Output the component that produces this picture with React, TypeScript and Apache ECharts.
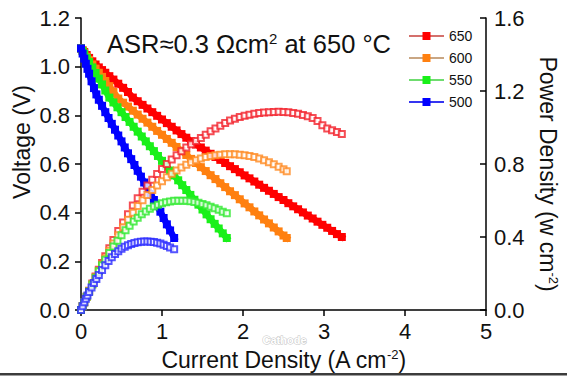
import React, { useEffect, useRef } from 'react';
import * as echarts from 'echarts';

const FONT = '"Liberation Sans", Arial, Helvetica, sans-serif';
const INK = '#111111';

// Tick values
const X_TICKS = [0, 1, 2, 3, 4, 5];
const V_TICKS = [0, 0.2, 0.4, 0.6, 0.8, 1.0, 1.2];
const P_TICKS = [0, 0.4, 0.8, 1.2, 1.6];

// Temperatures (legend)
const TEMPS = ['650', '600', '550', '500'];

// 650 °C
const I650 = [0, 0.02, 0.04, 0.07, 0.1, 0.14, 0.18, 0.22, 0.26, 0.3, 0.35, 0.4, 0.46, 0.52, 0.58, 0.64, 0.7, 0.76, 0.82, 0.88, 0.94, 1.0, 1.06, 1.12, 1.18, 1.24, 1.3, 1.36, 1.42, 1.48, 1.54, 1.6, 1.66, 1.72, 1.78, 1.84, 1.9, 1.96, 2.02, 2.08, 2.14, 2.2, 2.26, 2.32, 2.38, 2.44, 2.5, 2.56, 2.62, 2.68, 2.74, 2.8, 2.86, 2.92, 2.98, 3.04, 3.1, 3.16, 3.22];
const V650 = [1.075, 1.067, 1.06, 1.048, 1.036, 1.022, 1.009, 0.997, 0.986, 0.975, 0.961, 0.947, 0.93, 0.913, 0.896, 0.873, 0.858, 0.843, 0.828, 0.813, 0.798, 0.783, 0.768, 0.753, 0.738, 0.723, 0.708, 0.693, 0.68, 0.668, 0.655, 0.642, 0.629, 0.617, 0.604, 0.591, 0.579, 0.566, 0.553, 0.541, 0.528, 0.515, 0.502, 0.49, 0.477, 0.464, 0.452, 0.439, 0.426, 0.414, 0.401, 0.388, 0.376, 0.363, 0.35, 0.338, 0.325, 0.312, 0.3];
const P650 = [0, 0.02, 0.042, 0.073, 0.105, 0.145, 0.183, 0.22, 0.258, 0.295, 0.338, 0.383, 0.433, 0.48, 0.525, 0.572, 0.612, 0.648, 0.682, 0.714, 0.745, 0.772, 0.8, 0.825, 0.848, 0.87, 0.89, 0.908, 0.926, 0.943, 0.96, 0.98, 0.995, 1.01, 1.025, 1.038, 1.048, 1.057, 1.064, 1.07, 1.075, 1.079, 1.082, 1.084, 1.085, 1.086, 1.085, 1.083, 1.08, 1.075, 1.069, 1.062, 1.052, 1.035, 1.012, 0.995, 0.985, 0.975, 0.965];

// 600 °C
const I600 = [0, 0.02, 0.04, 0.07, 0.1, 0.14, 0.18, 0.22, 0.26, 0.3, 0.35, 0.4, 0.46, 0.52, 0.58, 0.64, 0.7, 0.76, 0.82, 0.88, 0.94, 1.0, 1.06, 1.12, 1.18, 1.24, 1.3, 1.36, 1.42, 1.48, 1.54, 1.6, 1.66, 1.72, 1.78, 1.84, 1.9, 1.96, 2.02, 2.08, 2.14, 2.2, 2.26, 2.32, 2.38, 2.44, 2.5, 2.54];
const V600 = [1.075, 1.066, 1.056, 1.041, 1.027, 1.009, 0.992, 0.975, 0.958, 0.941, 0.92, 0.896, 0.869, 0.852, 0.836, 0.819, 0.803, 0.786, 0.77, 0.753, 0.736, 0.72, 0.703, 0.687, 0.67, 0.654, 0.637, 0.621, 0.604, 0.587, 0.571, 0.554, 0.538, 0.521, 0.505, 0.488, 0.472, 0.455, 0.438, 0.422, 0.405, 0.389, 0.372, 0.356, 0.339, 0.323, 0.306, 0.296];
const P600 = [0, 0.021, 0.042, 0.073, 0.103, 0.141, 0.178, 0.214, 0.25, 0.284, 0.325, 0.365, 0.41, 0.453, 0.495, 0.533, 0.57, 0.602, 0.63, 0.657, 0.682, 0.705, 0.727, 0.747, 0.765, 0.781, 0.796, 0.809, 0.82, 0.83, 0.838, 0.844, 0.848, 0.851, 0.853, 0.854, 0.853, 0.851, 0.848, 0.844, 0.838, 0.83, 0.821, 0.81, 0.798, 0.785, 0.771, 0.76];

// 550 °C
const I550 = [0, 0.02, 0.04, 0.07, 0.1, 0.14, 0.18, 0.22, 0.26, 0.3, 0.35, 0.4, 0.45, 0.5, 0.55, 0.6, 0.65, 0.7, 0.75, 0.8, 0.85, 0.9, 0.95, 1.0, 1.05, 1.1, 1.15, 1.2, 1.25, 1.3, 1.35, 1.4, 1.45, 1.5, 1.55, 1.6, 1.65, 1.7, 1.75, 1.8];
const V550 = [1.075, 1.064, 1.053, 1.036, 1.019, 0.997, 0.974, 0.951, 0.927, 0.902, 0.873, 0.853, 0.833, 0.813, 0.793, 0.773, 0.753, 0.733, 0.713, 0.693, 0.673, 0.653, 0.633, 0.613, 0.593, 0.573, 0.553, 0.533, 0.513, 0.493, 0.473, 0.453, 0.433, 0.413, 0.393, 0.373, 0.354, 0.335, 0.315, 0.296];
const P550 = [0, 0.021, 0.042, 0.072, 0.102, 0.14, 0.177, 0.212, 0.245, 0.275, 0.312, 0.348, 0.38, 0.41, 0.437, 0.462, 0.485, 0.506, 0.524, 0.54, 0.555, 0.567, 0.577, 0.585, 0.591, 0.595, 0.598, 0.599, 0.599, 0.598, 0.596, 0.592, 0.587, 0.581, 0.574, 0.566, 0.558, 0.549, 0.539, 0.53];

// 500 °C
const I500 = [0, 0.02, 0.04, 0.06, 0.08, 0.1, 0.13, 0.16, 0.19, 0.22, 0.26, 0.3, 0.34, 0.38, 0.42, 0.46, 0.5, 0.54, 0.58, 0.62, 0.66, 0.7, 0.74, 0.78, 0.82, 0.86, 0.9, 0.94, 0.98, 1.02, 1.06, 1.1, 1.15];
const V500 = [1.075, 1.054, 1.033, 1.012, 0.991, 0.971, 0.94, 0.912, 0.886, 0.864, 0.839, 0.813, 0.789, 0.765, 0.741, 0.717, 0.693, 0.668, 0.644, 0.62, 0.596, 0.572, 0.548, 0.524, 0.5, 0.476, 0.452, 0.428, 0.404, 0.378, 0.352, 0.327, 0.296];
const P500 = [0, 0.021, 0.042, 0.061, 0.08, 0.098, 0.123, 0.148, 0.17, 0.192, 0.219, 0.245, 0.268, 0.289, 0.307, 0.322, 0.335, 0.346, 0.355, 0.362, 0.367, 0.371, 0.374, 0.375, 0.375, 0.374, 0.372, 0.369, 0.364, 0.358, 0.351, 0.343, 0.333];

const CURRENTS = [I650, I600, I550, I500];
const VOLTAGES = [V650, V600, V550, V500];
const POWERS = [P650, P600, P550, P500];

const MARK_COLORS = ['#ff0000', '#ff8010', '#19f019', '#0000ff'];
const LINE_COLORS = ['#d4706c', '#c9a683', '#6fdc6f', '#3535f0'];
const HOLLOW_COLORS = ['#f2202a', '#ff8a20', '#30e830', '#2a2aff'];

const zip = (a: number[], b: number[]) => a.map((x, i) => [x, b[i]]);

function buildOption(): any {
  const series: any[] = [];
  // thick band under the filled squares (not in legend)
  TEMPS.forEach((t, k) => {
    series.push({
      name: t + ' band',
      type: 'line',
      yAxisIndex: 0,
      data: zip(CURRENTS[k], VOLTAGES[k]),
      symbol: 'none',
      lineStyle: { color: MARK_COLORS[k], width: 6.5, cap: 'square', join: 'miter' },
      emphasis: { disabled: true },
      silent: true,
      z: 2,
    });
  });
  // voltage (filled squares), legend entries
  TEMPS.forEach((t, k) => {
    series.push({
      name: t,
      type: 'line',
      yAxisIndex: 0,
      data: zip(CURRENTS[k], VOLTAGES[k]),
      symbol: 'rect',
      symbolSize: 8,
      showSymbol: true,
      showAllSymbol: true,
      itemStyle: { color: MARK_COLORS[k], borderWidth: 0 },
      lineStyle: { color: LINE_COLORS[k], width: 1.2, opacity: 1 },
      emphasis: { disabled: true },
      silent: true,
      z: 3,
    });
  });
  // power density (hollow squares)
  TEMPS.forEach((t, k) => {
    series.push({
      name: t + ' power',
      type: 'scatter',
      yAxisIndex: 1,
      data: zip(CURRENTS[k], POWERS[k]),
      symbol: 'emptyRect',
      symbolSize: 6,
      itemStyle: { color: HOLLOW_COLORS[k], borderColor: HOLLOW_COLORS[k], borderWidth: 1.1 },
      emphasis: { disabled: true },
      silent: true,
      z: 4,
    });
  });

  const nameRich = {
    a: { fontSize: 23, fontFamily: FONT, color: INK, fill: INK },
    s: { fontSize: 13, fontFamily: FONT, color: INK, fill: INK, verticalAlign: 'top' },
  };

  return {
    animation: false,
    backgroundColor: '#ffffff',
    grid: { left: 81, right: 81, top: 18, bottom: 61, containLabel: false },
    legend: {
      data: TEMPS,
      orient: 'vertical',
      left: 408,
      top: 29,
      itemWidth: 35,
      itemHeight: 10,
      itemGap: 8,
      padding: 0,
      selectedMode: false,
      textStyle: { fontSize: 14, fontFamily: FONT, color: INK, padding: [0, 0, 0, 0] },
    },
    xAxis: {
      type: 'value',
      min: X_TICKS[0],
      max: X_TICKS[X_TICKS.length - 1],
      interval: 1,
      name: '{a|Current Density (A cm}{s|-2}{a|)}',
      nameLocation: 'middle',
      nameGap: 38,
      nameMoveOverlap: false,
      nameTextStyle: { rich: nameRich },
      axisLine: { show: true, onZero: false, lineStyle: { color: '#000', width: 1.5 } },
      axisTick: { show: true, inside: false, length: 6, lineStyle: { color: '#000', width: 1.5 } },
      axisLabel: { fontSize: 22, fontFamily: FONT, color: INK, margin: 10 },
      splitLine: { show: false },
    },
    yAxis: [
      {
        type: 'value',
        position: 'left',
        min: V_TICKS[0],
        max: V_TICKS[V_TICKS.length - 1],
        interval: 0.2,
        axisLine: { show: true, onZero: false, lineStyle: { color: '#000', width: 1.5 } },
        axisTick: { show: true, inside: false, length: 6, lineStyle: { color: '#000', width: 1.5 } },
        axisLabel: { fontSize: 22, fontFamily: FONT, color: INK, margin: 11, formatter: (v: number) => v.toFixed(1) },
        splitLine: { show: false },
      },
      {
        type: 'value',
        position: 'right',
        min: P_TICKS[0],
        max: P_TICKS[P_TICKS.length - 1],
        interval: 0.4,
        axisLine: { show: true, onZero: false, lineStyle: { color: '#000', width: 1.5 } },
        axisTick: { show: true, inside: true, length: 6, lineStyle: { color: '#000', width: 1.5 } },
        axisLabel: { fontSize: 22, fontFamily: FONT, color: INK, margin: 8, formatter: (v: number) => v.toFixed(1) },
        splitLine: { show: false },
      },
    ],
    graphic: [
      {
        type: 'text',
        x: 22,
        y: 142,
        rotation: Math.PI / 2,
        silent: true,
        style: {
          text: 'Voltage (V)',
          fontSize: 23,
          fontFamily: FONT,
          fill: INK,
          align: 'center',
          verticalAlign: 'middle',
        },
      },
      {
        type: 'text',
        x: 548,
        y: 174,
        rotation: -Math.PI / 2,
        silent: true,
        style: {
          text: '{a|Power Density (w cm}{s|-2}{a|)}',
          rich: nameRich,
          align: 'center',
          verticalAlign: 'middle',
        },
      },
      {
        type: 'text',
        left: 107,
        top: 31,
        silent: true,
        style: {
          text: '{a|ASR≈0.3 Ωcm}{s|2}{a| at 650 °C}',
          rich: {
            a: { fontSize: 25.5, fontFamily: FONT, fill: INK, color: INK },
            s: { fontSize: 15, fontFamily: FONT, fill: INK, color: INK, verticalAlign: 'top' },
          },
        },
      },
      {
        type: 'text',
        left: 262,
        top: 334,
        silent: true,
        style: {
          text: 'Cathode',
          fontSize: 11,
          fontWeight: 'bold',
          fontFamily: FONT,
          fill: '#ffffff',
          stroke: '#c4c4c4',
          lineWidth: 1,
        },
      },
      {
        type: 'rect',
        left: 0,
        top: 373,
        silent: true,
        shape: { width: 567, height: 2.5 },
        style: { fill: '#3c3c3c' },
      },
    ],
    series,
  };
}

export default function App() {
  const ref = useRef<HTMLDivElement>(null);
  useEffect(() => {
    if (!ref.current) return;
    const chart = echarts.init(ref.current, null, { renderer: 'svg', width: 567, height: 376 });
    chart.setOption(buildOption());
    return () => chart.dispose();
  }, []);
  return (
    <div
      ref={ref}
      style={{ position: 'fixed', left: 0, top: 0, width: 567, height: 376, background: '#ffffff' }}
    />
  );
}
